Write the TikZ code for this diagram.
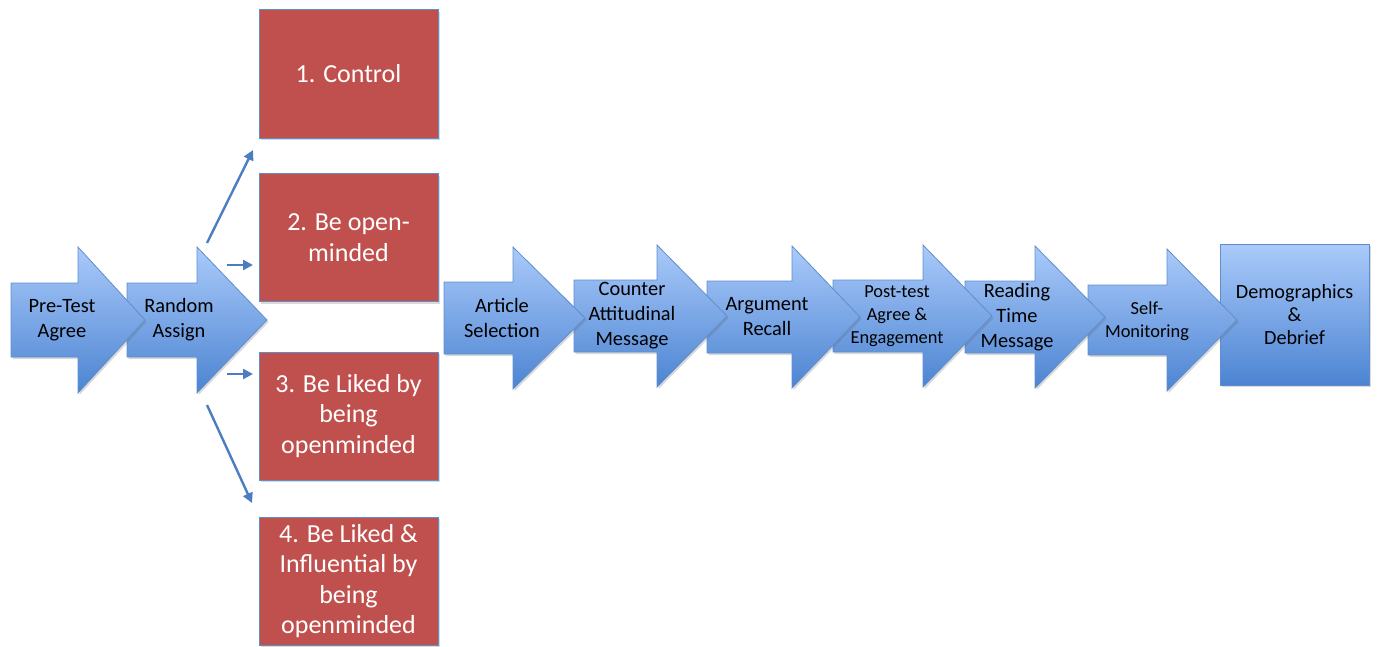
\documentclass[tikz,border=0pt]{standalone}
\usepackage{fontspec}
\setmainfont{Carlito}
\usetikzlibrary{arrows.meta,shadows}

\definecolor{flowblue}{RGB}{74,126,193}
\definecolor{arrowtop}{RGB}{170,202,250}
\definecolor{arrowbot}{RGB}{76,132,210}
\definecolor{edgeblue}{RGB}{96,142,205}
\definecolor{condred}{RGB}{192,80,77}

\tikzset{
  softshadow/.style={drop shadow={shadow xshift=0.8pt, shadow yshift=-1pt, opacity=0.25, fill=black!60}},
  blockarrow/.style={draw=edgeblue, line width=0.4pt, line join=miter,
    top color=arrowtop, bottom color=arrowbot, softshadow},
  steplabel/.style={align=center, inner sep=0pt, text=black,
    font=\fontsize{10.2}{12.5}\selectfont},
  smalllabel/.style={steplabel, font=\fontsize{9.2}{11.5}\selectfont},
  condbox/.style={draw=edgeblue, line width=0.5pt, fill=condred, softshadow,
    minimum width=89.5pt, minimum height=64pt, inner sep=0pt,
    align=center, text=white, font=\fontsize{13}{15.2}\selectfont},
  demobox/.style={draw=edgeblue, line width=0.4pt, top color=arrowtop,
    bottom color=arrowbot, softshadow, minimum width=74.5pt,
    minimum height=70.5pt, inner sep=0pt, align=center,
    font=\fontsize{10.1}{11.5}\selectfont},
  assignline/.style={draw=flowblue, line width=1.2pt,
    -{Triangle[length=5pt,width=5pt]}},
}

% block arrow: tail x, head start x, tip x, centre y, half body height, half head height
\newcommand\stepshape[6]{%
  \path[blockarrow] (#1,#4-#5) -- (#2,#4-#5) -- (#2,#4-#6) -- (#3,#4)
    -- (#2,#4+#6) -- (#2,#4+#5) -- (#1,#4+#5) -- cycle;}

\begin{document}
\begin{tikzpicture}[x=0.5pt, y=-0.5pt]
\useasboundingbox (0,0) rectangle (1380,647);

% final step, then the chain of steps from right to left so each tip lies on top
\node[demobox] (demo) at (1294.5,314.5) {Demographics\\\&\\Debrief};
\stepshape{1088}{1167}{1237}{320}{35}{71}
\stepshape{965}{1035}{1105}{317}{36}{71}
\stepshape{833}{923}{992}{316}{36}{71}
\stepshape{707}{792}{860}{317}{36}{71}
\stepshape{574}{657}{727}{316}{36}{71}
\stepshape{444}{513}{585}{318}{36}{71}
\stepshape{127}{197}{267}{320}{37}{73}
\stepshape{11}{78}{145}{320}{37}{73}

% step labels
\node[steplabel] (pretest) at (62,320) {Pre-Test\\Agree};
\node[steplabel] (assign) at (179,320) {Random\\Assign};
\node[steplabel] (article) at (502,318) {Article\\Selection};
\node[steplabel] (counter) at (632,316) {Counter\\Attitudinal\\Message};
\node[steplabel] (recall) at (767,317) {Argument\\Recall};
\node[smalllabel] (posttest) at (897,316) {Post-test\\Agree \&\\Engagement};
\node[steplabel] (reading) at (1017,317) {Reading\\Time\\Message};
\node[smalllabel] (selfmon) at (1147,321) {Self-\\Monitoring};

% experimental conditions
\node[condbox] (cond1) at (348.5,74) {1. Control};
\node[condbox] (cond2) at (348.5,237.5) {2. Be open-\\minded};
\node[condbox] (cond3) at (348.5,416) {3. Be Liked by\\being\\openminded};
\node[condbox] (cond4) at (348.5,581) {4. Be Liked \&\\Influential by\\being\\openminded};

% assignment connectors
\coordinate (up-s) at (207,243);
\coordinate (up-e) at (253,150);
\coordinate (mid2-s) at (227,265);
\coordinate (mid2-e) at (253,265);
\coordinate (mid3-s) at (227,374);
\coordinate (mid3-e) at (253,374);
\coordinate (dn-s) at (207,405);
\coordinate (dn-e) at (252,503);
\draw[assignline] (up-s) -- (up-e);
\draw[assignline] (mid2-s) -- (mid2-e);
\draw[assignline] (mid3-s) -- (mid3-e);
\draw[assignline] (dn-s) -- (dn-e);
\end{tikzpicture}
\end{document}
